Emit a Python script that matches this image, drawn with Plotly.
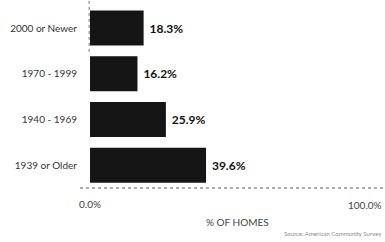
import plotly.graph_objects as go

categories = ["2000 or Newer", "1970 - 1999", "1940 - 1969", "1939 or Older"]
values = [18.3, 16.2, 25.9, 39.6]
value_labels = ["18.3%", "16.2%", "25.9%", "39.6%"]
x_ticks = [0]
x_tick_labels = ["0.0%"]
x_max_label = "100.0%"

fig = go.Figure(go.Bar(
    y=categories, x=values, orientation="h",
    marker=dict(color="#151515", line=dict(width=0)),
    width=0.766,
    text=value_labels, texttemplate=" %{text}", textposition="outside", cliponaxis=False,
    textfont=dict(family="Lato", size=12, color="#111111", weight="bold"),
))

fig.update_layout(
    width=385, height=242,
    margin=dict(l=90, r=2, t=8, b=54, autoexpand=False),
    paper_bgcolor="white", plot_bgcolor="white",
    showlegend=False,
    font=dict(family="Lato", color="#333333"),
    xaxis=dict(range=[0, 100], tickvals=x_ticks, ticktext=x_tick_labels,
               showgrid=False, zeroline=False, showline=False,
               tickfont=dict(size=10, color="#444444"), ticks="", ticklen=0,
               ticklabelstandoff=9),
    yaxis=dict(range=[3.5, -0.44], showgrid=False, zeroline=False,
               showline=False, ticks="", ticklen=0, ticklabelstandoff=12,
               tickfont=dict(size=10, color="#333333")),
    shapes=[
        dict(type="line", xref="paper", yref="paper", x0=-0.034, x1=1.007, y0=0, y1=0,
             ysizemode="scaled", layer="above",
             line=dict(color="#555555", width=1.2, dash="dot")),
        dict(type="line", xref="paper", yref="paper", x0=-0.003, x1=-0.003, y0=0.756, y1=1.044,
             layer="above", line=dict(color="#777777", width=1, dash="dot")),
    ],
    annotations=[
        dict(text=x_max_label, xref="paper", yref="paper", x=1, xshift=1, y=-0.094,
             xanchor="right", yanchor="middle", showarrow=False,
             font=dict(size=10, color="#444444")),
        dict(text="% OF HOMES", xref="paper", yref="paper", x=0.502, y=-0.189,
             xanchor="center", yanchor="middle", showarrow=False,
             font=dict(size=10, color="#444444")),
        dict(text="Source: American Community Survey", xref="paper", yref="paper",
             x=1, xshift=1, y=-0.25, xanchor="right", yanchor="middle", showarrow=False,
             font=dict(size=6, color="#888888")),
    ],
)

fig.write_html("out.html", config={"displayModeBar": False},
               post_script="document.body.style.margin='0';")
